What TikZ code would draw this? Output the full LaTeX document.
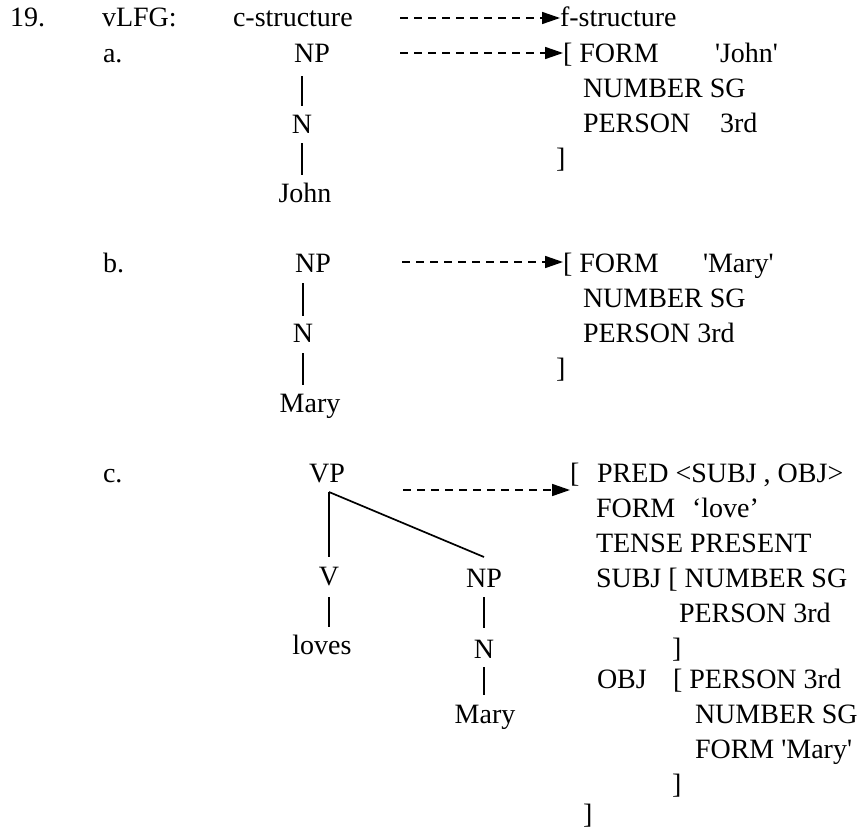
\documentclass[tikz,border=0pt]{standalone}
\usepackage{fontspec}
\setmainfont{Liberation Serif}
\usetikzlibrary{arrows.meta}
\begin{document}
\begin{tikzpicture}[x=1pt,y=-1pt,
  txt/.style={inner sep=0pt,outer sep=0pt,anchor=base west,font=\fontsize{28}{34}\selectfont},
  tnode/.style={inner sep=0pt,outer sep=0pt,anchor=base,font=\fontsize{28}{34}\selectfont},
  branch/.style={line width=1.7pt},
  maparrow/.style={line width=1.6pt,dash pattern=on 8pt off 6pt,-{Triangle[length=18pt,width=12pt]}}]
\useasboundingbox (0,0) rectangle (865,835);
\newcommand{\sq}{\textquotesingle}
% header row
\node[txt] (num) at (10,27) {19.};
\node[txt] (vlfg) at (102,27) {vLFG:};
\node[txt] (cs) at (233,27) {c-structure};
\node[txt] (fs) at (560,27) {f-structure};
\coordinate (t0) at (400,18);
\draw[maparrow] (t0) -- (fs.base west |- t0);
% row a
\node[txt] (la) at (103,62) {a.};
\node[tnode] (npA) at (312,62) {NP};
\node[tnode] (nA) at (302,133) {N};
\node[tnode] (johnA) at (305,202) {John};
\draw[branch] ([yshift=-14pt]nA.base |- npA.base) -- ([yshift=27pt]nA.base);
\draw[branch] ([yshift=-10pt]nA.base) -- ([yshift=27pt]nA.base |- johnA.base);
\coordinate (tA) at (400,53);
\node[txt] (fA1) at (563,62) {[ FORM};
\node[txt] (fA1v) at (715,62) {\sq John\sq};
\node[txt] (fA2) at (583,97) {NUMBER SG};
\node[txt] (fA3) at (583,132) {PERSON};
\node[txt] (fA3v) at (720,132) {3rd};
\node[txt] (fA4) at (556,167) {]};
\draw[maparrow] (tA) -- (fA1.base west |- tA);
% row b
\node[txt] (lb) at (103,272) {b.};
\node[tnode] (npB) at (313,272) {NP};
\node[tnode] (nB) at (303,342) {N};
\node[tnode] (maryB) at (310,412) {Mary};
\draw[branch] ([yshift=-11pt]nB.base |- npB.base) -- ([yshift=26pt]nB.base);
\draw[branch] ([yshift=-11pt]nB.base) -- ([yshift=27pt]nB.base |- maryB.base);
\coordinate (tB) at (402,262);
\node[txt] (fB1) at (563,272) {[ FORM};
\node[txt] (fB1v) at (703,272) {\sq Mary\sq};
\node[txt] (fB2) at (583,307) {NUMBER SG};
\node[txt] (fB3) at (583,342) {PERSON 3rd};
\node[txt] (fB4) at (556,377) {]};
\draw[maparrow] (tB) -- (fB1.base west |- tB);
% row c
\node[txt] (lc) at (103,482) {c.};
\node[tnode] (vp) at (327,482) {VP};
\node[tnode] (v) at (329,585) {V};
\node[tnode] (loves) at (322,654) {loves};
\node[tnode] (npC) at (484,587) {NP};
\node[tnode] (nC) at (484,658) {N};
\node[tnode] (maryC) at (485,723) {Mary};
\coordinate (vptop) at ([yshift=-10pt]v.base |- vp.base);
\draw[branch] (vptop) -- ([yshift=28pt]v.base);
\draw[branch] (vptop) -- ([yshift=30pt]npC.base);
\draw[branch] ([yshift=-12pt]v.base) -- ([yshift=27pt]v.base |- loves.base);
\draw[branch] ([yshift=-10pt]nC.base |- npC.base) -- ([yshift=30pt]nC.base);
\draw[branch] ([yshift=-9pt]nC.base) -- ([yshift=28pt]nC.base |- maryC.base);
\coordinate (tC) at (403,490);
\node[txt] (fC0) at (570,482) {[};
\node[txt] (fC1) at (597,482) {PRED <SUBJ , OBJ>};
\node[txt] (fC2) at (596,517) {FORM};
\node[txt] (fC2v) at (692,517) {‘love’};
\node[txt] (fC3) at (596,552) {TENSE PRESENT};
\node[txt] (fC4) at (596,587) {SUBJ [ NUMBER SG};
\node[txt] (fC5) at (679,622) {PERSON 3rd};
\node[txt] (fC6) at (672,657) {]};
\node[txt] (fC7) at (597,688) {OBJ};
\node[txt] (fC7v) at (673,688) {[ PERSON 3rd};
\node[txt] (fC8) at (695,723) {NUMBER SG};
\node[txt] (fC9) at (695,758) {FORM \sq Mary\sq};
\node[txt] (fC10) at (672,793) {]};
\node[txt] (fC11) at (583,823) {]};
\draw[maparrow] (tC) -- (fC0.base west |- tC);
\end{tikzpicture}
\end{document}
